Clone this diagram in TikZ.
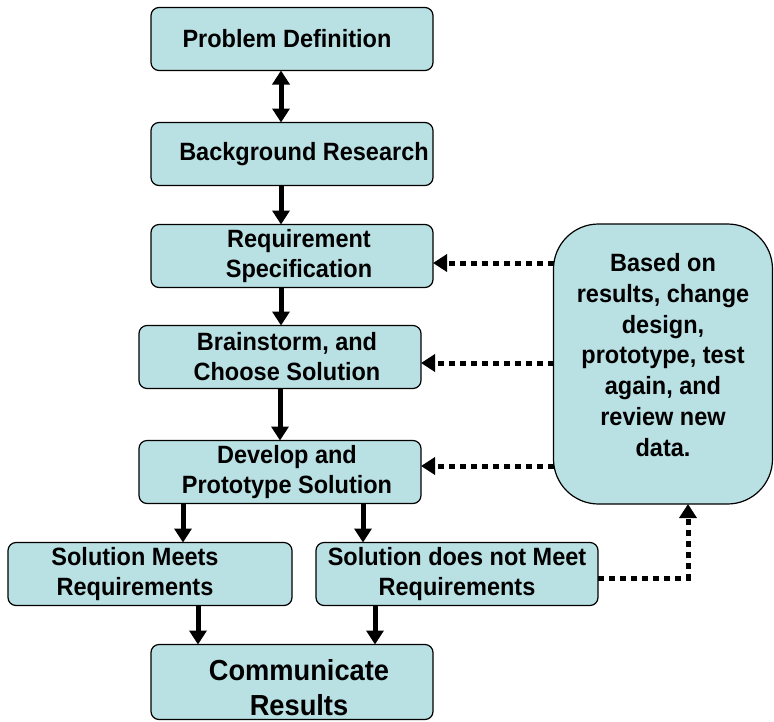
\documentclass[tikz,border=0pt]{standalone}
\usepackage{fontspec}
\setmainfont{Liberation Sans}[FakeStretch=0.94]
\usetikzlibrary{arrows.meta,positioning}
\definecolor{boxfill}{RGB}{185,224,227}

\tikzset{
	stage/.style={draw,rectangle,rounded corners=8pt,fill=boxfill,line width=1.2pt,
		minimum width=282pt,minimum height=63pt,inner sep=0pt,outer sep=0pt,align=center,
		font=\bfseries\fontsize{25}{30}\selectfont},
	flow/.style={-{Triangle[length=14pt,width=17pt]},line width=5pt},
	retry/.style={flow,dash pattern=on 6pt off 5pt}
}

\begin{document}
\begin{tikzpicture}[x=1pt,y=-1pt]
	\useasboundingbox (0,0) rectangle (774,721);
	\node[stage](pd) at (292,39) {\hspace*{-10pt}Problem Definition};
	\node[stage](bg)[below = 52pt of pd]{\hspace*{24pt}Background Research};
	\node[stage](rs)[below = 39pt of bg]{\hspace*{14pt}Requirement\\\hspace*{14pt}Specification};
	\node[stage](bcs)[below = 38pt of rs,xshift=-12pt]{\hspace*{14pt}Brainstorm, and\\\hspace*{14pt}Choose Solution};
	\node[stage](dps)[below = 52pt of bcs]{\hspace*{14pt}Develop and\\\hspace*{14pt}Prototype Solution};
	\node[stage,minimum width=284pt](meets)[below = 39pt of dps,xshift=-130pt]{\hspace*{-30pt}Solution Meets\\\hspace*{-30pt}Requirements};
	\node[stage](fails)[below = 39pt of dps,xshift=177pt]{Solution does not Meet\\Requirements};
	% strut pushes the two lines down in the box
	\node[stage,minimum height=75pt,font=\bfseries\fontsize{29}{35}\selectfont](cr)[below = 39pt of meets,xshift=142pt]{\rule{0pt}{33pt}\hspace*{14pt}Communicate\\\hspace*{14pt}Results};
	% feedback box, text sits a little high
	\node[stage,rounded corners=45pt,minimum width=219pt,minimum height=280pt](redo) at (663,364) {};
	\node[font=\bfseries\fontsize{25}{30.7}\selectfont,align=center,inner sep=0pt](redonote) at (663,355)
		{Based on\\results, change\\design,\\prototype, test\\again, and\\review new\\data.};
	% main line
	\draw[flow,{Triangle[length=14pt,width=17pt]}-{Triangle[length=14pt,width=17pt]}]
		([xshift=-11pt]pd.south) -- ([xshift=-11pt]pd.south |- bg.north);
	\draw[flow]([xshift=-11pt]bg.south) -- ([xshift=-11pt]bg.south |- rs.north);
	\draw[flow]([xshift=-11pt]rs.south) -- ([xshift=-11pt]rs.south |- bcs.north);
	\draw[flow](bcs.south) -- (dps.north);
	\draw[flow]([xshift=-97pt]dps.south) -- ([xshift=-97pt]dps.south |- meets.north);
	\draw[flow]([xshift=83pt]dps.south) -- ([xshift=83pt]dps.south |- fails.north);
	\draw[flow]([xshift=48pt]meets.south) -- ([xshift=48pt]meets.south |- cr.north);
	\draw[flow]([xshift=-82pt]fails.south) -- ([xshift=-82pt]fails.south |- cr.north);
	% loop back
	\draw[retry]([yshift=-7pt]redo.west |- rs.east) -- ([yshift=-7pt]rs.east);
	\draw[retry]([yshift=-6pt]redo.west |- bcs.east) -- ([yshift=-6pt]bcs.east);
	\draw[retry]([yshift=6pt]redo.west |- dps.east) -- ([yshift=6pt]dps.east);
	\draw[retry]([yshift=-4pt]fails.east) -| ([xshift=25pt]redo.south);
\end{tikzpicture}
\end{document}
